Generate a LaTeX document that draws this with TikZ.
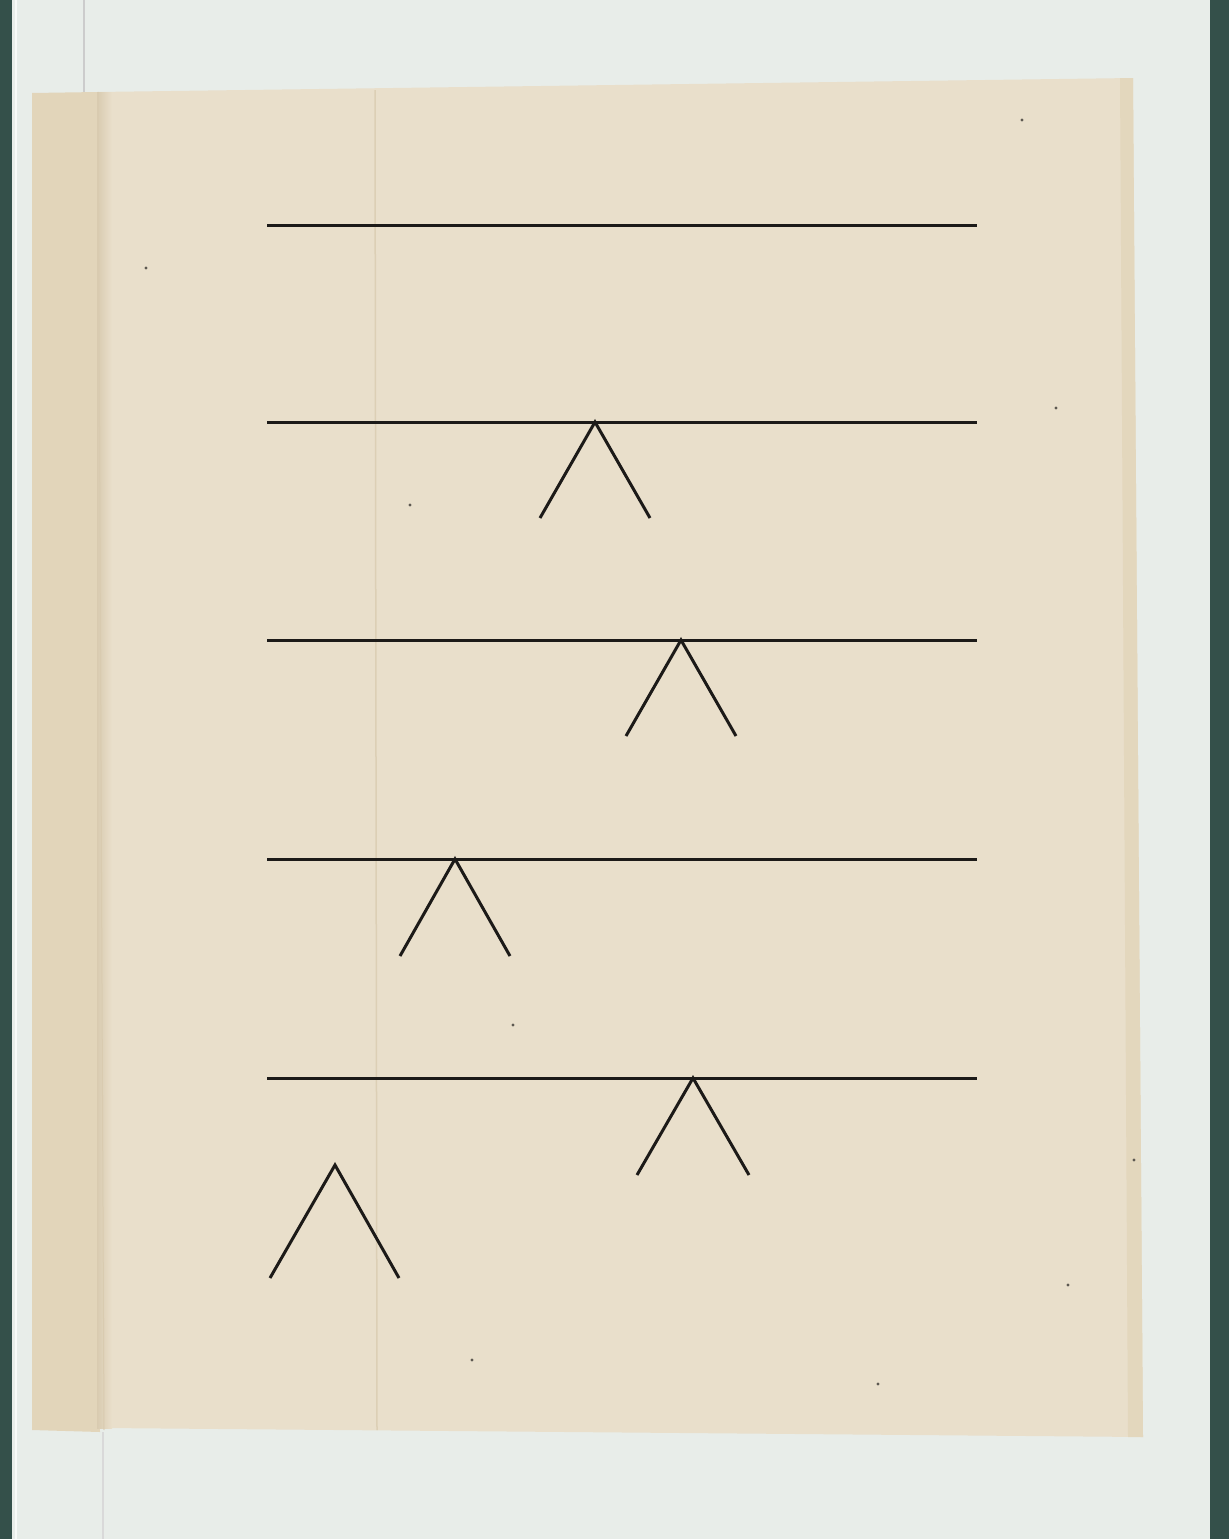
\documentclass[tikz,border=0pt]{standalone}
\begin{document}
\begin{tikzpicture}[x=1pt,y=-1pt,
  ink/.style={line width=3pt, draw=inkc, line cap=butt, line join=miter},
  caret/.style={line width=3pt, draw=inkc, line join=miter}]
\definecolor{frame}{HTML}{34504A}
\definecolor{mat}{HTML}{E8EDE9}
\definecolor{paper}{HTML}{E9DFCB}
\definecolor{paperdk}{HTML}{E2D5BA}
\definecolor{fold}{HTML}{D9CBB0}
\definecolor{inkc}{HTML}{1C1A18}
\useasboundingbox (0,0) rectangle (1229,1539);
% frame and mat
\fill[frame] (0,0) rectangle (1229,1539);
\fill[mat] (12,0) rectangle (1210,1539);
\draw[line width=2pt, draw=white!70!mat] (16,0) -- (16,1539);
% page edge lines on mat
\draw[line width=2pt, draw=gray!40] (84,0) -- (84,92);
\draw[line width=2pt, draw=gray!30] (103,1432) -- (103,1539);
% left strip of paper
\fill[paperdk] (32,93) -- (98,92) -- (100,1432) -- (32,1430) -- cycle;
% main paper
\fill[paper] (97,92) -- (1133,78) -- (1143,1437) -- (105,1428) -- cycle;
\shade[left color=fold, right color=paper] (97,92) rectangle (112,1428);
\draw[line width=1pt, draw=fold] (98,92) -- (104,1430);
\draw[line width=1.5pt, draw=fold!80!paper] (375,90) -- (377,1430);
\fill[paperdk!80!paper] (1120,78) -- (1133,78) -- (1143,1437) -- (1128,1437) -- cycle;
% horizontal lines
\foreach \y/\n in {225/a,422/b,640/c,859/d,1078/e}{
  \coordinate (\n L) at (267,\y);
  \coordinate (\n R) at (977,\y);
  \draw[ink] (\n L) -- (\n R);
}
% carets
\coordinate (b1) at (540,518); \coordinate (bt) at (595,422); \coordinate (b2) at (650,518);
\coordinate (c1) at (626,736); \coordinate (ct) at (681,640); \coordinate (c2) at (736,736);
\coordinate (d1) at (400,956); \coordinate (dt) at (455,859); \coordinate (d2) at (510,956);
\coordinate (e1) at (637,1175); \coordinate (et) at (693,1078); \coordinate (e2) at (749,1175);
\coordinate (f1) at (270,1278); \coordinate (ft) at (335,1165); \coordinate (f2) at (399,1278);
\foreach \n in {b,c,d,e,f}{
  \draw[caret] (\n1) -- (\n t) -- (\n2);
}
% specks
\foreach \p in {(146,268),(1056,408),(1134,1160),(1068,1285),(878,1384),(472,1360),(513,1025),(410,505),(1022,120)}{
  \fill[black!60!paper] \p circle (1.6);
}
\end{tikzpicture}
\end{document}
